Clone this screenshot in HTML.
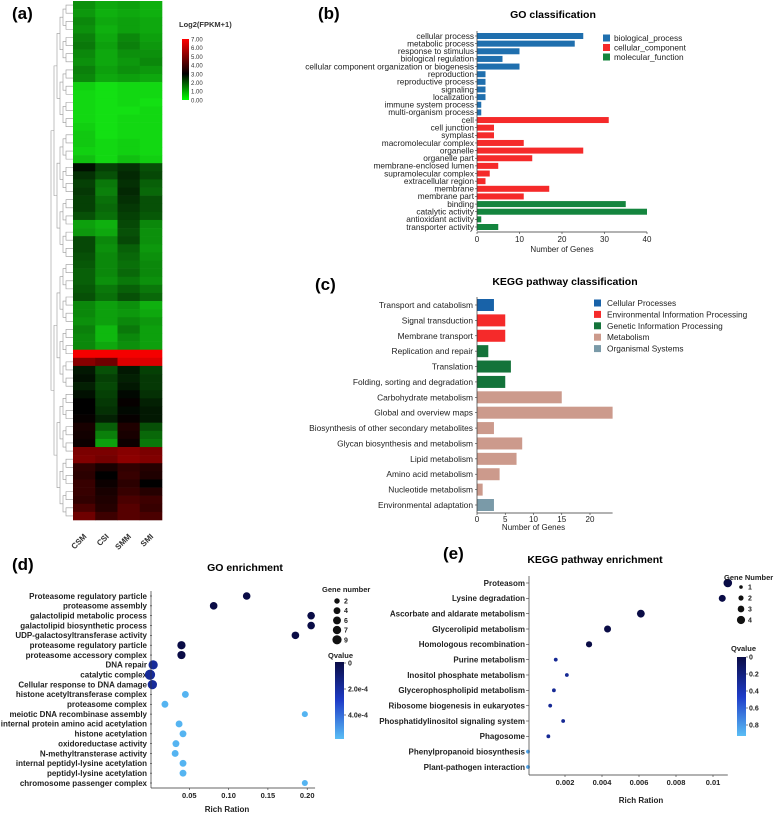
<!DOCTYPE html>
<html><head><meta charset="utf-8">
<style>
html,body{margin:0;padding:0;background:#fff;}
svg{display:block;font-family:"Liberation Sans",Arial,sans-serif;}
</style></head>
<body>
<svg id="fig" width="777" height="814" viewBox="0 0 777 814" xmlns="http://www.w3.org/2000/svg">
<rect width="777" height="814" fill="#fff"/>
<g id="pa"></g>
<g id="pb"></g>
<g id="pc"></g>
<g id="pd"></g>
<g id="pe"></g>
</svg>
<script>
// ---------- (a) heatmap data ----------
const hmSamples = ["CSM","CSI","SMM","SMI"];
const hmRows = [
[1.2,0.9,1.0,0.8],[1.1,0.8,0.9,0.8],[1.3,0.9,1.0,0.9],[1.2,0.8,1.0,0.9],[1.4,0.9,1.3,1.0],
[1.5,1.0,1.4,1.1],[1.3,0.9,1.2,1.2],[1.2,0.9,1.1,1.3],[1.4,1.0,1.2,1.1],[1.3,0.9,1.0,0.9],
[0.4,0.2,0.3,0.3],[0.3,0.2,0.3,0.3],[0.3,0.2,0.3,0.2],[0.3,0.2,0.2,0.3],[0.3,0.2,0.3,0.3],
[0.4,0.2,0.3,0.3],[0.5,0.2,0.3,0.3],[0.5,0.3,0.4,0.3],[0.4,0.3,0.4,0.3],[0.6,0.3,0.6,0.4],
[2.8,2.2,2.4,2.0],[2.4,2.0,2.5,2.1],[2.2,1.5,2.4,1.8],[2.3,1.4,2.5,1.7],[2.2,1.6,2.4,2.0],
[2.2,1.7,2.3,2.0],[2.0,1.6,2.2,1.9],[1.0,0.8,2.1,1.3],[1.1,0.9,2.0,1.2],[2.1,1.3,2.1,1.2],
[2.1,1.2,1.8,1.1],[2.0,1.3,1.7,1.2],[1.9,1.3,1.6,1.3],[1.8,1.3,1.7,1.3],[1.8,1.2,1.5,1.2],
[1.9,1.5,1.8,1.5],[2.0,1.6,2.0,1.7],[1.3,1.0,1.2,0.8],[1.3,1.0,1.1,0.9],[1.2,1.0,1.3,1.1],
[1.4,0.7,1.5,1.0],[1.3,0.7,1.3,1.0],[1.3,0.9,1.2,1.0],
[7.0,7.0,7.0,7.0],[5.2,4.8,6.6,6.6],
[2.7,2.0,2.7,2.2],[2.8,2.2,2.6,2.3],[2.6,2.1,2.7,2.3],[2.8,2.2,2.9,2.4],[3.0,2.3,3.1,2.6],
[3.0,2.4,2.9,2.7],[3.1,2.6,3.1,2.7],[3.4,1.8,3.5,2.0],[3.3,1.4,3.4,1.7],[3.2,1.0,3.2,1.5],
[5.0,5.0,5.2,5.0],[5.1,4.9,5.3,5.1],[3.8,3.4,3.8,3.6],[3.7,3.0,3.9,3.5],[3.9,3.2,3.7,3.0],
[3.9,3.4,3.9,3.6],[3.8,3.5,4.2,4.0],[4.2,3.6,4.4,3.9],[4.8,4.0,4.4,4.2]
];
const hmLegendTicks = ["7.00","6.00","5.00","4.00","3.00","2.00","1.00","0.00"];

// ---------- (b) GO classification ----------
const goCats = ["cellular process","metabolic process","response to stimulus","biological regulation","cellular component organization or biogenesis","reproduction","reproductive process","signaling","localization","immune system process","multi-organism process","cell","cell junction","symplast","macromolecular complex","organelle","organelle part","membrane-enclosed lumen","supramolecular  complex","extracellular region","membrane","membrane part","binding","catalytic activity","antioxidant activity","transporter activity"];
const goValues = [25,23,10,6,10,2,2,2,2,1,1,31,4,4,11,25,13,5,3,2,17,11,35,40,1,5];
const goGroups = [0,0,0,0,0,0,0,0,0,0,0,1,1,1,1,1,1,1,1,1,1,1,2,2,2,2];
const goGroupNames = ["biological_process","cellular_component","molecular_function"];
const goTicks = [0,10,20,30,40];

// ---------- (c) KEGG classification ----------
const kcCats = ["Transport and catabolism","Signal transduction","Membrane transport","Replication and repair","Translation","Folding, sorting and degradation","Carbohydrate metabolism","Global and overview maps","Biosynthesis of other secondary metabolites","Glycan biosynthesis and metabolism","Lipid metabolism","Amino acid metabolism","Nucleotide metabolism","Environmental adaptation"];
const kcValues = [3,5,5,2,6,5,15,24,3,8,7,4,1,3];
const kcGroups = [0,1,1,2,2,2,3,3,3,3,3,3,3,4];
const kcGroupNames = ["Cellular Processes","Environmental Information Processing","Genetic Information Processing","Metabolism","Organismal Systems"];
const kcTicks = [0,5,10,15,20];

// ---------- (d) GO enrichment ----------
const geTerms = ["Proteasome regulatory particle","proteasome assembly","galactolipid metabolic process","galactolipid biosynthetic process","UDP-galactosyltransferase activity","proteasome regulatory particle","proteasome accessory complex","DNA repair","catalytic complex","Cellular response to DNA damage","histone acetyltransferase complex","proteasome complex","meiotic DNA recombinase assembly","internal protein amino acid acetylation","histone acetylation","oxidoreductase activity","N-methyltransterase activity","internal peptidyl-lysine acetylation","peptidyl-lysine acetylation","chromosome passenger complex"];
const geRich = [0.123,0.081,0.205,0.205,0.185,0.040,0.040,0.004,0.000,0.003,0.045,0.019,0.197,0.037,0.042,0.033,0.032,0.042,0.042,0.197];
const geGenes = [4,4,4,4,4,5,5,7,9,7,3,3,2,3,3,3,3,3,3,2];
const geQ = [0,0,0,0,0,0,0,0.00016,0.00016,0.00016,0.00048,0.00048,0.00048,0.00048,0.00048,0.00048,0.00048,0.00048,0.00048,0.00048];
const geTicks = [0.05,0.10,0.15,0.20];
const geTickLabels = ["0.05","0.10","0.15","0.20"];
const geSizeLegend = [2,4,6,7,9];

// ---------- (e) KEGG enrichment ----------
const keTerms = ["Proteasom","Lysine degradation","Ascorbate and aldarate metabolism","Glycerolipid metabolism","Homologous recombination","Purine metabolism","Inositol phosphate metabolism","Glycerophospholipid metabolism","Ribosome biogenesis in eukaryotes","Phosphatidylinositol signaling system","Phagosome","Phenylpropanoid biosynthesis","Plant-pathogen interaction"];
const keRich = [0.0108,0.0105,0.0061,0.0043,0.0033,0.0015,0.0021,0.0014,0.0012,0.0019,0.0011,0.0000,0.0000];
const keGenes = [4,3,3.5,3,2.5,1,1,1,1,1,1,1,1];
const keQ = [0,0,0,0,0,0.3,0.3,0.3,0.3,0.3,0.3,0.9,0.9];
const keTicks = [0.002,0.004,0.006,0.008,0.01];
const keTickLabels = ["0.002","0.004","0.006","0.008","0.01"];
const keSizeLegend = [1,2,3,4];

const NS="http://www.w3.org/2000/svg";
function mk(parent,tag,attrs,text){const e=document.createElementNS(NS,tag);for(const k in attrs)e.setAttribute(k,attrs[k]);if(text!==undefined)e.textContent=text;parent.appendChild(e);return e;}

// ===== (a) heatmap =====
(function(){
  const g=document.getElementById('pa');
  const t=mk(g,'text',{x:12,y:19,'font-size':17,'font-weight':'bold'},'(a)');
  
  
  const x0=73,y0=1,W=89,H=519;
  const cw=W/hmSamples.length, rh=H/hmRows.length;
  function col(v){
    if(v<=3){const f=1-v/3;return `rgb(${Math.round(20*f)},${Math.round(240*f)},${Math.round(20*f)})`;}
    const r=Math.round(245*Math.min(1,(v-3)/4));return `rgb(${r},0,0)`;
  }
  hmRows.forEach((row,i)=>{
    row.forEach((v,j)=>{
      const r=mk(g,'rect',{x:x0+j*cw,y:y0+i*rh,width:cw+0.3,height:rh+0.3,fill:col(v)});
      
      
    });
  });
  const dg=mk(g,'g',{stroke:'#999','stroke-width':0.6,fill:'none'});
  
  
  let nodes=hmRows.map((r,i)=>({y:y0+(i+0.5)*rh,x:x0}));
  let depth=0;
  while(nodes.length>1){
    depth++;
    const nn=[];
    for(let i=0;i<nodes.length;i+=2){
      if(i+1<nodes.length){
        const a=nodes[i],b=nodes[i+1];const nx=x0-4-depth*3.0;
        mk(dg,'path',{d:`M${a.x},${a.y}H${nx}V${b.y}H${b.x}`});
        nn.push({x:nx,y:(a.y+b.y)/2});
      } else nn.push(nodes[i]);
    }
    nodes=nn;
  }
  hmSamples.forEach((s,j)=>{
    const cx=x0+(j+0.5)*cw+3, cy=y0+H+17;
    const tt=mk(g,'text',{x:cx,y:cy,'font-size':8,'font-weight':'bold','text-anchor':'end',fill:'#333',transform:`rotate(-45 ${cx} ${cy})`},s);
    
    
  });
  const lt=mk(g,'text',{x:179,y:27,'font-size':7.5,'font-weight':'bold',fill:'#333'},'Log2(FPKM+1)');
  
  
  const defs=mk(g,'defs',{});
  const lg=mk(defs,'linearGradient',{id:'hmgrad',x1:0,y1:0,x2:0,y2:1});
  [[0,'#ff0000'],[4/7,'#000000'],[1,'#00ff00']].forEach(s=>mk(lg,'stop',{offset:s[0],'stop-color':s[1]}));
  const bar=mk(g,'rect',{x:182,y:39,width:7,height:61,fill:'url(#hmgrad)'});
  
  
  hmLegendTicks.forEach((l,i)=>{
    const tt=mk(g,'text',{x:191,y:41.5+i*8.7,'font-size':6,fill:'#333'},l);
    
    
  });
})();

// ===== (b) GO classification =====
(function(){
  const g=document.getElementById('pb');
  const colors=["#1f6fae","#f52a2a","#14853e"];
  const x0=477, sx=(647-477)/40, yTop=36, step=(227-36)/25;
  const xs=v=>x0+v*sx;
  const a=mk(g,'text',{x:318,y:19,'font-size':17,'font-weight':'bold'},'(b)');
  
  
  const t=mk(g,'text',{x:553,y:18,'font-size':10.5,'font-weight':'bold','text-anchor':'middle'},'GO classification');
  
  
  goCats.forEach((c,i)=>{
    const y=yTop+i*step;
    const r=mk(g,'rect',{x:x0,y:y-3,width:xs(goValues[i])-x0,height:6,fill:colors[goGroups[i]]});
    
    
    mk(g,'line',{x1:x0-2,x2:x0,y1:y,y2:y,stroke:'#333','stroke-width':0.6});
    const l=mk(g,'text',{x:x0-3,y:y+2.8,'font-size':8.3,'text-anchor':'end',fill:'#222'},c);
    
    
  });
  mk(g,'line',{x1:x0,x2:x0,y1:yTop-5,y2:yTop+25*step+4,stroke:'#333','stroke-width':0.7});
  const ay=yTop+25*step+5;
  mk(g,'line',{x1:x0,x2:xs(40),y1:ay,y2:ay,stroke:'#333','stroke-width':0.7});
  goTicks.forEach(v=>{
    mk(g,'line',{x1:xs(v),x2:xs(v),y1:ay,y2:ay+2,stroke:'#333','stroke-width':0.6});
    const tt=mk(g,'text',{x:xs(v),y:ay+10,'font-size':8,'text-anchor':'middle',fill:'#222'},String(v));
    
    
  });
  const xt=mk(g,'text',{x:xs(20),y:ay+20,'font-size':8,'text-anchor':'middle',fill:'#222'},'Number of Genes');
  
  
  goGroupNames.forEach((n,i)=>{
    const y=38+i*9.5;
    const s=mk(g,'rect',{x:603,y:y-3.5,width:7,height:7,fill:colors[i]});
    
    
    const tt=mk(g,'text',{x:614,y:y+3,'font-size':8.3,fill:'#222'},n);
    
    
  });
})();

// ===== (c) KEGG classification =====
(function(){
  const g=document.getElementById('pc');
  const colors=["#1862a8","#f52a2a","#14733a","#cc9a8c","#7a9aa8"];
  const x0=477, sx=(590-477)/20, yTop=305, step=(505-305)/13;
  const xs=v=>x0+v*sx;
  const a=mk(g,'text',{x:315,y:290,'font-size':17,'font-weight':'bold'},'(c)');
  
  
  const t=mk(g,'text',{x:565,y:285,'font-size':10.5,'font-weight':'bold','text-anchor':'middle'},'KEGG pathway classification');
  
  
  kcCats.forEach((c,i)=>{
    const y=yTop+i*step;
    const r=mk(g,'rect',{x:x0,y:y-6,width:xs(kcValues[i])-x0,height:12,fill:colors[kcGroups[i]]});
    
    
    mk(g,'line',{x1:x0-2,x2:x0,y1:y,y2:y,stroke:'#333','stroke-width':0.6});
    const l=mk(g,'text',{x:x0-4,y:y+3,'font-size':8.4,'text-anchor':'end',fill:'#222'},c);
    
    
  });
  const ay=513;
  mk(g,'line',{x1:x0,x2:x0,y1:297,y2:ay,stroke:'#333','stroke-width':0.7});
  mk(g,'line',{x1:x0,x2:xs(24),y1:ay,y2:ay,stroke:'#333','stroke-width':0.7});
  kcTicks.forEach(v=>{
    mk(g,'line',{x1:xs(v),x2:xs(v),y1:ay,y2:ay+2,stroke:'#333','stroke-width':0.6});
    const tt=mk(g,'text',{x:xs(v),y:ay+9,'font-size':8,'text-anchor':'middle',fill:'#222'},String(v));
    
    
  });
  const xt=mk(g,'text',{x:xs(10),y:ay+17,'font-size':8,'text-anchor':'middle',fill:'#222'},'Number of Genes');
  
  
  kcGroupNames.forEach((n,i)=>{
    const y=303+i*11.4;
    const s=mk(g,'rect',{x:594,y:y-3.5,width:7,height:7,fill:colors[i]});
    
    
    const tt=mk(g,'text',{x:607,y:y+3,'font-size':8.3,fill:'#222'},n);
    
    
  });
})();

function qColor(q,qmax){
  const f=Math.max(0,Math.min(1,q/qmax));
  const c0=[10,12,70],c1=[30,60,200],c2=[90,190,245];
  let c;
  if(f<0.5){const u=f/0.5;c=c0.map((v,k)=>Math.round(v+(c1[k]-v)*u));}
  else{const u=(f-0.5)/0.5;c=c1.map((v,k)=>Math.round(v+(c2[k]-v)*u));}
  return `rgb(${c[0]},${c[1]},${c[2]})`;
}

// ===== (d) GO enrichment =====
(function(){
  const g=document.getElementById('pd');
  const xs=v=>150+v*786, yTop=596, step=(783-596)/19;
  const rad=n=>1.2+Math.sqrt(n)*1.3;
  const qmax=0.0005;
  const a=mk(g,'text',{x:12,y:570,'font-size':17,'font-weight':'bold'},'(d)');
  
  
  const t=mk(g,'text',{x:245,y:571,'font-size':10.5,'font-weight':'bold','text-anchor':'middle'},'GO enrichment');
  
  
  geTerms.forEach((c,i)=>{
    const y=yTop+i*step;
    mk(g,'line',{x1:150,x2:152,y1:y,y2:y,stroke:'#333','stroke-width':0.6});
    const l=mk(g,'text',{x:147,y:y+2.8,'font-size':8,'font-weight':'bold','text-anchor':'end',fill:'#222'},c);
    
    
  });
  geTerms.forEach((c,i)=>{
    const p=mk(g,'circle',{cx:xs(geRich[i]),cy:yTop+i*step,r:rad(geGenes[i]),fill:qColor(geQ[i],qmax)});
    
    
  });
  const ay=788;
  mk(g,'line',{x1:151,x2:151,y1:591,y2:ay,stroke:'#333','stroke-width':0.7});
  mk(g,'line',{x1:151,x2:xs(0.21),y1:ay,y2:ay,stroke:'#333','stroke-width':0.7});
  geTicks.forEach((v,i)=>{
    mk(g,'line',{x1:xs(v),x2:xs(v),y1:ay,y2:ay+2,stroke:'#333','stroke-width':0.6});
    const tt=mk(g,'text',{x:xs(v),y:ay+10,'font-size':7.5,'font-weight':'bold','text-anchor':'middle',fill:'#222'},geTickLabels[i]);
    
    
  });
  const xt=mk(g,'text',{x:227,y:812,'font-size':8,'font-weight':'bold','text-anchor':'middle',fill:'#222'},'Rich Ration');
  
  
  const st=mk(g,'text',{x:322,y:592,'font-size':7.5,'font-weight':'bold',fill:'#222'},'Gene number');
  
  
  geSizeLegend.forEach((n,i)=>{
    const y=601+i*9.7;
    const c=mk(g,'circle',{cx:337,cy:y,r:rad(n)*0.9,fill:'#111'});
    
    
    const tt=mk(g,'text',{x:344,y:y+2.5,'font-size':7,'font-weight':'bold',fill:'#222'},String(n));
    
    
  });
  const qt=mk(g,'text',{x:328,y:658,'font-size':7.5,'font-weight':'bold',fill:'#222'},'Qvalue');
  
  
  const defs=mk(g,'defs',{});
  const lg=mk(defs,'linearGradient',{id:'gdq',x1:0,y1:0,x2:0,y2:1});
  [[0,'#0a0c46'],[0.5,'#1e3cc8'],[1,'#5abef5']].forEach(s=>mk(lg,'stop',{offset:s[0],'stop-color':s[1]}));
  const b=mk(g,'rect',{x:335,y:662,width:9,height:77,fill:'url(#gdq)'});
  
  
  [["0",663],["2.0e-4",689],["4.0e-4",715]].forEach(q=>{
    mk(g,'line',{x1:344,x2:346,y1:q[1],y2:q[1],stroke:'#333','stroke-width':0.6});
    const tt=mk(g,'text',{x:348,y:q[1]+2.5,'font-size':7,'font-weight':'bold',fill:'#222'},q[0]);
    
    
  });
})();

// ===== (e) KEGG enrichment =====
(function(){
  const g=document.getElementById('pe');
  const xs=v=>528+v*18500, yTop=583, step=(767-583)/12;
  const rad=n=>1.1+n*0.8;
  const a=mk(g,'text',{x:443,y:559,'font-size':17,'font-weight':'bold'},'(e)');
  
  
  const t=mk(g,'text',{x:595,y:563,'font-size':10.5,'font-weight':'bold','text-anchor':'middle'},'KEGG pathway enrichment');
  
  
  keTerms.forEach((c,i)=>{
    const y=yTop+i*step;
    mk(g,'line',{x1:526,x2:529,y1:y,y2:y,stroke:'#333','stroke-width':0.6});
    const l=mk(g,'text',{x:525,y:y+2.8,'font-size':8,'font-weight':'bold','text-anchor':'end',fill:'#222'},c);
    
    
  });
  keTerms.forEach((c,i)=>{
    const p=mk(g,'circle',{cx:xs(keRich[i]),cy:yTop+i*step,r:rad(keGenes[i]),fill:qColor(keQ[i],1)});
    
    
  });
  const ay=775;
  mk(g,'line',{x1:529,x2:529,y1:576,y2:ay,stroke:'#333','stroke-width':0.7});
  mk(g,'line',{x1:529,x2:xs(0.0108),y1:ay,y2:ay,stroke:'#333','stroke-width':0.7});
  keTicks.forEach((v,i)=>{
    mk(g,'line',{x1:xs(v),x2:xs(v),y1:ay,y2:ay+2,stroke:'#333','stroke-width':0.6});
    const tt=mk(g,'text',{x:xs(v),y:ay+10,'font-size':7.5,'font-weight':'bold','text-anchor':'middle',fill:'#222'},keTickLabels[i]);
    
    
  });
  const xt=mk(g,'text',{x:641,y:803,'font-size':8,'font-weight':'bold','text-anchor':'middle',fill:'#222'},'Rich Ration');
  
  
  const st=mk(g,'text',{x:724,y:580,'font-size':7.5,'font-weight':'bold',fill:'#222'},'Gene Number');
  
  
  keSizeLegend.forEach((n,i)=>{
    const y=587+i*11;
    const c=mk(g,'circle',{cx:741,cy:y,r:rad(n)*0.95,fill:'#111'});
    
    
    const tt=mk(g,'text',{x:748,y:y+2.5,'font-size':7,'font-weight':'bold',fill:'#222'},String(n));
    
    
  });
  const qt=mk(g,'text',{x:731,y:651,'font-size':7.5,'font-weight':'bold',fill:'#222'},'Qvalue');
  
  
  const defs=mk(g,'defs',{});
  const lg=mk(defs,'linearGradient',{id:'keq',x1:0,y1:0,x2:0,y2:1});
  [[0,'#0a0c46'],[0.5,'#1e3cc8'],[1,'#5abef5']].forEach(s=>mk(lg,'stop',{offset:s[0],'stop-color':s[1]}));
  const b=mk(g,'rect',{x:737,y:657,width:9,height:79,fill:'url(#keq)'});
  
  
  [["0",657],["0.2",674],["0.4",691],["0.6",708],["0.8",725]].forEach(q=>{
    mk(g,'line',{x1:746,x2:748,y1:q[1],y2:q[1],stroke:'#333','stroke-width':0.6});
    const tt=mk(g,'text',{x:749,y:q[1]+2.5,'font-size':7,'font-weight':'bold',fill:'#222'},q[0]);
    
    
  });
})();
</script>
</body></html>
